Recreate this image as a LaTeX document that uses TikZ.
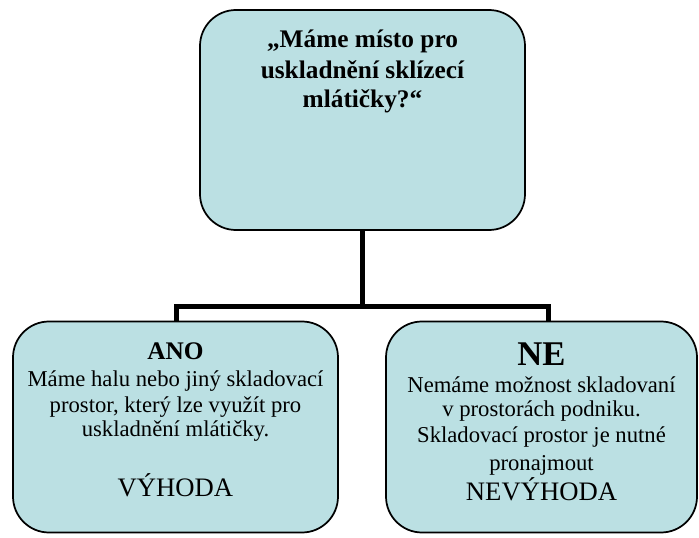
\documentclass[tikz,border=0pt]{standalone}
\usepackage{fontspec}
\setmainfont{Liberation Serif}
\definecolor{boxfill}{RGB}{187,224,227}
\begin{document}
\begin{tikzpicture}[x=0.75pt,y=-0.75pt,
  box/.style={draw=black, line width=1.3pt, fill=boxfill, rounded corners=27pt, inner sep=0pt},
  conn/.style={line width=3.75pt},
  ln/.style={anchor=base, inner sep=0pt},
  ttl/.style={ln, font=\fontsize{19}{23}\selectfont\bfseries},
  body/.style={ln, font=\fontsize{17}{20}\selectfont},
  verdict/.style={ln, font=\fontsize{20}{24}\selectfont}]
\useasboundingbox (0,0) rectangle (699,538);
\node[box, minimum width=243.75pt, minimum height=165pt] (top) at (362.5,120) {};
\node[box, minimum width=243.75pt, minimum height=158.25pt] (left) at (175.5,427) {};
\node[box, minimum width=233.25pt, minimum height=158.25pt] (right) at (541.5,427) {};
\coordinate (split) at (362.5,308);
\draw[conn] (top.south) -- (split);
\draw[conn] ([xshift=1.1pt]left.north) -- ++(0,-14) -| ([xshift=4.9pt]right.north);
% top
\node[ttl] (t1) at (362.5,48) {„Máme místo pro};
\node[ttl] (t2) at (362.5,78.5) {uskladnění sklízecí};
\node[ttl] (t3) at (362.5,108) {mlátičky?“};
% left
\node[ln, font=\fontsize{19}{23}\selectfont\bfseries] (l0) at (175.5,359) {ANO};
\node[body] (l1) at (175.5,386) {Máme halu nebo jiný skladovací};
\node[body] (l2) at (175.5,412) {prostor, který lze využít pro};
\node[body] (l3) at (175.5,436) {uskladnění mlátičky.};
\node[verdict] (l4) at (175.5,496) {VÝHODA};
% right
\node[ln, font=\fontsize{26}{30}\selectfont\bfseries] (r0) at (541.5,365) {NE};
\node[body] (r1) at (541.5,392) {Nemáme možnost skladovaní};
\node[body] (r2) at (541.5,416) {v prostorách podniku.};
\node[body] (r3) at (541.5,442) {Skladovací prostor je nutné};
\node[body] (r4) at (541.5,470) {pronajmout};
\node[verdict] (r5) at (541.5,500) {NEVÝHODA};
\end{tikzpicture}
\end{document}
